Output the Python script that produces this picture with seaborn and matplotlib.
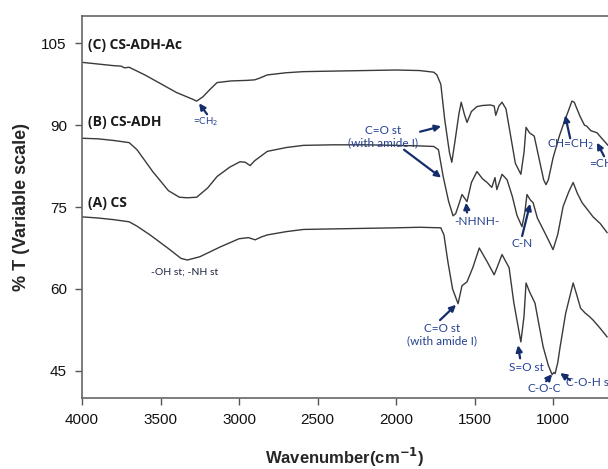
import numpy as np
import pandas as pd
import seaborn as sns
import matplotlib
matplotlib.use("Agg")
import matplotlib.pyplot as plt

# ---- data (wavenumber cm-1, %T) ----
wn_C = [4000, 3900, 3800, 3750, 3730, 3700, 3600, 3500, 3400, 3300, 3270, 3230, 3180, 3140,
        3050, 2950, 2900, 2870, 2820, 2700, 2590, 2400, 2200, 2000, 1850, 1760, 1740, 1715,
        1690, 1660, 1645, 1625, 1600, 1585, 1565, 1548, 1520, 1485, 1450, 1400, 1375, 1365,
        1345, 1325, 1300, 1270, 1240, 1205, 1185, 1172, 1150, 1120, 1090, 1060, 1045, 1030,
        1000, 960, 930, 900, 880, 865, 828, 800, 785, 760, 720, 690, 650]
T_C = [101.5, 101.2, 100.9, 100.8, 100.5, 100.6, 99.2, 97.6, 96.0, 94.8, 94.4, 95.2, 96.7, 97.8,
       98.1, 98.2, 98.3, 98.6, 99.2, 99.6, 99.8, 99.9, 100.0, 100.1, 100.0, 99.7, 99.2, 97.5,
       91.0, 85.0, 83.2, 87.0, 92.0, 94.2, 92.0, 90.5, 92.5, 93.4, 93.6, 93.7, 93.5, 91.8,
       93.5, 94.2, 93.0, 88.0, 83.0, 81.0, 85.0, 89.6, 88.6, 88.0, 84.0, 80.0, 79.1, 80.0,
       84.0, 88.0, 90.5, 92.8, 94.4, 94.2, 91.6, 90.0, 89.8, 89.0, 88.6, 87.6, 86.3]

wn_B = [4000, 3900, 3800, 3700, 3650, 3550, 3450, 3380, 3330, 3270, 3200, 3140, 3060, 2994,
        2960, 2930, 2900, 2820, 2700, 2590, 2400, 2200, 2000, 1850, 1760, 1730, 1700, 1665,
        1637, 1620, 1600, 1580, 1548, 1520, 1485, 1450, 1420, 1390, 1370, 1358, 1325, 1293,
        1260, 1230, 1198, 1180, 1166, 1145, 1127, 1100, 1063, 1030, 1000, 970, 936, 900,
        872, 845, 815, 780, 745, 700, 655]
T_B = [87.6, 87.5, 87.2, 86.8, 85.5, 81.5, 78.0, 76.8, 76.7, 76.8, 78.5, 80.6, 82.3, 83.3,
       83.2, 82.6, 83.5, 85.2, 85.9, 86.3, 86.4, 86.4, 86.3, 86.2, 86.1, 85.5, 80.6, 76.0,
       73.4, 73.8, 75.5, 77.3, 76.0, 79.5, 81.5, 80.2, 79.5, 78.6, 80.4, 78.2, 81.0, 80.0,
       77.0, 73.5, 71.4, 74.0, 77.3, 76.3, 75.8, 73.0, 70.9, 69.0, 67.2, 70.0, 75.1, 77.8,
       79.5, 77.5, 75.8, 74.5, 73.2, 72.0, 70.3]

wn_A = [4000, 3900, 3800, 3700, 3650, 3567, 3450, 3370, 3330, 3250, 3120, 3000, 2940, 2898,
        2860, 2820, 2700, 2590, 2400, 2200, 2000, 1850, 1715, 1695, 1670, 1640, 1605, 1580,
        1548, 1510, 1470, 1420, 1375, 1357, 1325, 1280, 1250, 1205, 1185, 1172, 1150, 1115,
        1090, 1063, 1030, 1006, 995, 987, 970, 955, 920, 872, 850, 825, 796, 770, 745, 700, 655]
T_A = [73.2, 73.0, 72.7, 72.3, 71.5, 69.9, 67.4, 65.6, 65.3, 65.9, 67.7, 69.2, 69.4, 69.0,
       69.5, 69.9, 70.5, 70.9, 71.0, 71.1, 71.2, 71.3, 71.2, 69.9, 65.0, 60.0, 57.3, 60.6,
       61.3, 64.0, 67.5, 65.0, 62.6, 63.9, 66.3, 63.9, 57.5, 50.3, 55.0, 61.1, 59.5, 57.4,
       53.5, 49.4, 46.0, 44.3, 44.7, 44.5, 46.5, 49.4, 55.5, 61.1, 59.0, 56.5, 55.6, 55.0, 54.3, 52.8, 51.2]

samples = ["(A) CS", "(B) CS-ADH", "(C) CS-ADH-Ac"]

df = pd.concat([
    pd.DataFrame({"wavenumber": wn_A, "T": T_A, "sample": samples[0]}),
    pd.DataFrame({"wavenumber": wn_B, "T": T_B, "sample": samples[1]}),
    pd.DataFrame({"wavenumber": wn_C, "T": T_C, "sample": samples[2]}),
])

yticks = [45, 60, 75, 90, 105]
xticks = [4000, 3500, 3000, 2500, 2000, 1500, 1000]

sns.set_theme(style="ticks")
plt.rcParams["font.family"] = ["Liberation Sans", "DejaVu Sans"]

fig = plt.figure(figsize=(6.08, 4.69), dpi=100)
ax = fig.add_axes([0.135, 0.151, 0.865, 0.815])

sns.lineplot(data=df, x="wavenumber", y="T", hue="sample",
             palette=["#3a3a3a"] * 3, estimator=None, legend=False,
             linewidth=1.0, ax=ax)

ax.set_xlim(4000, 650)
ax.set_ylim(40, 110)
ax.set_xticks(xticks)
ax.set_yticks(yticks)
ax.tick_params(labelsize=11, length=5, width=1, pad=6, color="#555555", labelcolor="#111111")
for s in ["left", "bottom", "top"]:
    ax.spines[s].set_color("#666666")
    ax.spines[s].set_linewidth(1.2)
ax.spines["top"].set_visible(True)
ax.spines["right"].set_visible(False)

ax.set_xlabel("Wavenumber(cm$^{\\mathbf{-1}}$)", fontsize=12, fontweight="bold", labelpad=13)
ax.set_ylabel("% T (Variable scale)", fontsize=13, fontweight="bold", labelpad=8)

# sample labels
lab_font = dict(fontsize=10, fontweight="bold", color="#1a1a1a", family=["Open Sans", "DejaVu Sans"])
ax.text(3960, 104.6, samples[2], ha="left", va="center", **lab_font)
ax.text(3960, 90.6, samples[1], ha="left", va="center", **lab_font)
ax.text(3960, 75.7, samples[0], ha="left", va="center", **lab_font)

tc = "#25418f"
ac = "#152d6b"
afont = ["Lato", "DejaVu Sans"]
aprops = dict(arrowstyle="-|>", color=ac, lw=1.6, mutation_scale=9, shrinkA=0, shrinkB=0)

def note(text, xy, xytext, fs=8, ha="center", va="center", color=tc, start=None):
    ax.text(xytext[0], xytext[1], text, ha=ha, va=va, fontsize=fs, color=color, family=afont)
    if xy is not None:
        ax.annotate("", xy=xy, xytext=start, arrowprops=aprops)

note("=CH$_2$", (3255, 94.0), (3215, 90.6), fs=7, start=(3204, 92.0))
note("C=O st\n(with amide I)", (1713, 89.8), (2083, 87.9), fs=8.5, start=(1847, 88.8))
ax.annotate("", xy=(1713, 80.4), xytext=(1949, 85.5), arrowprops=aprops)
note("-NHNH-", (1554, 75.8), (1484, 72.4), fs=8.5, start=(1548, 74.0))
note("C-N", (1146, 75.6), (1197, 68.4), fs=8.5, start=(1197, 69.7))
note("CH=CH$_2$", (923, 91.8), (891, 86.3), fs=8.5, start=(891, 87.6))
note("=CH$_2$", (720, 86.8), (770, 82.8), fs=8.5, ha="left", start=(675, 84.3))
note("-OH st; -NH st", None, (3344, 63.1), fs=7.5, color="#1c2340")
note("C=O st\n(with amide I)", (1618, 57.1), (1707, 51.6), fs=8.5, start=(1720, 54.3))
note("S=O st", (1223, 49.7), (1172, 45.7), fs=8.5, start=(1210, 47.3))
note("C-O-C", (1006, 44.4), (1057, 41.7), fs=8.5, start=(1044, 43.1))
note("C-O-H st", (955, 44.6), (915, 42.8), fs=8.5, ha="left", start=(891, 43.3))

fig.savefig("out.png", dpi=100)
